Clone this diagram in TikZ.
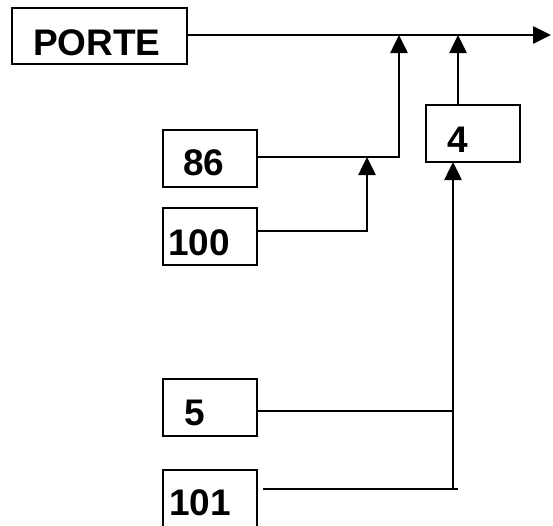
\documentclass[tikz,border=0pt]{standalone}
\usepackage{fontspec}
\setmainfont{Liberation Sans}
\usetikzlibrary{arrows.meta}
\begin{document}
\begin{tikzpicture}[x=1pt,y=-1pt,
  box/.style={draw,line width=2pt,rectangle,inner sep=0pt,minimum width=94pt,minimum height=57pt},
  lbl/.style={inner sep=0pt,anchor=base west,font=\fontsize{37}{40}\selectfont\bfseries},
  conn/.style={line width=2.6pt},
  arr/.style={conn,-{Triangle[width=17pt,length=18pt]}}]
\useasboundingbox (0,0) rectangle (553,525);
\clip (0,0) rectangle (553,525);
% boxes
\node[box,minimum width=175pt,minimum height=56pt] (porte) at (99.5,36) {};
\node[lbl] (tporte) at (33,55) {PORTE};
\node[box] (b86) at (210,158.5) {};
\node[lbl] (t86) at (183,175) {86};
\node[box] (b100) at (210,236.5) {};
\node[lbl] (t100) at (168,255) {100};
\node[box] (b4) at (473,133.5) {};
\node[lbl] (t4) at (447,152) {4};
\node[box] (b5) at (210,407.5) {};
\node[lbl] (t5) at (184,425) {5};
\node[box] (b101) at (210,498.5) {};
\node[lbl] (t101) at (169,515) {101};
% coordinates
\coordinate (out) at (551,35);
\coordinate (m1) at (399,35);
\coordinate (m2) at (458,35);
\coordinate (c86) at (399,157);
\coordinate (j86) at (367,157);
\coordinate (s100) at (257,231);
\coordinate (c100) at (367,231);
\coordinate (s5) at (257,411);
\coordinate (e5) at (453,411);
\coordinate (s101) at (263,489);
\coordinate (e101) at (458,489);
\coordinate (v101) at (453,489);
\coordinate (b4in) at (453,162);
% connectors
\draw[arr] (porte.east |- out) -- (out);
\draw[arr] (b86.east |- c86) -- (c86) -- (m1);
\draw[arr] (s100) -- (c100) -- (j86);
\draw[arr] (b4.north -| m2) -- (m2);
\draw[conn] (s5) -- (e5);
\draw[conn] (s101) -- (e101);
\draw[arr] (v101) -- (b4in);
\end{tikzpicture}
\end{document}
